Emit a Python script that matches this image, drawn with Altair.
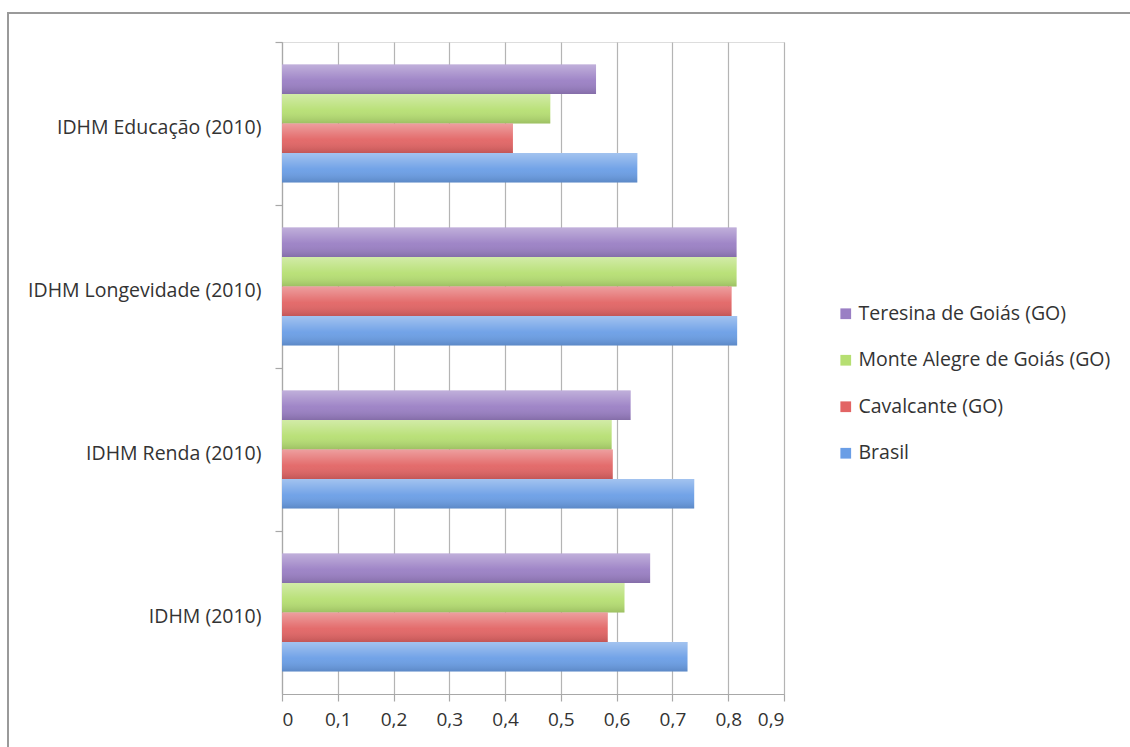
import altair as alt
import pandas as pd

categories = ["IDHM Educação (2010)", "IDHM Longevidade (2010)", "IDHM Renda (2010)", "IDHM (2010)"]
series = ["Teresina de Goiás (GO)", "Monte Alegre de Goiás (GO)", "Cavalcante (GO)", "Brasil"]
teresina = [0.563, 0.815, 0.625, 0.660]
monte_alegre = [0.481, 0.815, 0.591, 0.614]
cavalcante = [0.414, 0.806, 0.593, 0.584]
brasil = [0.637, 0.816, 0.739, 0.727]
colors = ["#9a7fc4", "#b6df72", "#e26464", "#6a9ee6"]
x_ticks = [0, 0.1, 0.2, 0.3, 0.4, 0.5, 0.6, 0.7, 0.8, 0.9]

rows = []
for s, vals in zip(series, [teresina, monte_alegre, cavalcante, brasil]):
    for c, v in zip(categories, vals):
        rows.append({"categoria": c, "serie": s, "valor": v})
df = pd.DataFrame(rows)

W, H = 502, 652
FONT = "Open Sans"

x_enc = alt.X(
    "valor:Q",
    scale=alt.Scale(domain=[0, 0.9], nice=False),
    axis=alt.Axis(
        values=x_ticks,
        title=None,
        grid=True,
        gridColor="#b4b4b4",
        gridWidth=1.2,
        domainColor="#a8a8a8",
        domainWidth=1.2,
        tickColor="#a8a8a8",
        tickSize=7,
        tickWidth=1.2,
        labelExpr="replace(format(datum.value, '.1~f'), '.', ',')",
        labelPadding=9,
        labelFont=FONT,
        labelFontSize=19,
        labelColor="#333333",
    ),
)
y_enc = alt.Y(
    "categoria:N",
    sort=categories,
    scale=alt.Scale(paddingInner=0, paddingOuter=0),
    axis=alt.Axis(
        title=None,
        bandPosition=0,
        labelOffset=4,
        domainColor="#a8a8a8",
        domainWidth=1.2,
        tickColor="#a8a8a8",
        tickSize=7,
        tickWidth=1.2,
        labelPadding=14,
        labelFont=FONT,
        labelFontSize=19.5,
        labelColor="#333333",
        labelLimit=400,
    ),
)
yoff_enc = alt.YOffset("serie:N", sort=series, scale=alt.Scale(paddingInner=0, paddingOuter=0.76))

bars = alt.Chart(df).mark_bar(cornerRadius=0).encode(
    x=x_enc,
    y=y_enc,
    yOffset=yoff_enc,
    color=alt.Color(
        "serie:N",
        sort=series,
        scale=alt.Scale(domain=series, range=colors),
        legend=alt.Legend(
            title=None,
            orient="none",
            legendX=554,
            legendY=262,
            symbolType="square",
            symbolSize=115,
            symbolStrokeWidth=0,
            labelFont=FONT,
            labelFontSize=19.5,
            labelColor="#333333",
            labelOffset=3,
            rowPadding=25.5,
            labelLimit=400,
        ),
    ),
)

shine = alt.Chart(df).mark_bar(
    fill=alt.LinearGradient(
        gradient="linear",
        x1=0, x2=0, y1=0, y2=1,
        stops=[
            alt.GradientStop(color="rgba(255,255,255,0.38)", offset=0),
            alt.GradientStop(color="rgba(255,255,255,0.05)", offset=0.55),
            alt.GradientStop(color="rgba(0,0,0,0.14)", offset=1),
        ],
    )
).encode(x="valor:Q", y=alt.Y("categoria:N", sort=categories), yOffset=alt.YOffset("serie:N", sort=series))

frame = alt.Chart(pd.DataFrame({"k": [0]})).mark_rect(
    filled=False, stroke="#9a9a9a", strokeWidth=2
).encode(
    x=alt.value(8 - 282), x2=alt.value(1300), y=alt.value(13 - 42), y2=alt.value(900)
)

chart = alt.layer(frame, bars, shine).properties(
    width=W,
    height=H,
    padding={"left": 282, "top": 42, "right": 1130 - 282 - W, "bottom": 747 - 42 - H},
    autosize=alt.AutoSizeParams(type="none"),
).configure_view(stroke=None).configure(background="white")

chart.save("out.html", embed_options={"renderer": "svg", "actions": False})
